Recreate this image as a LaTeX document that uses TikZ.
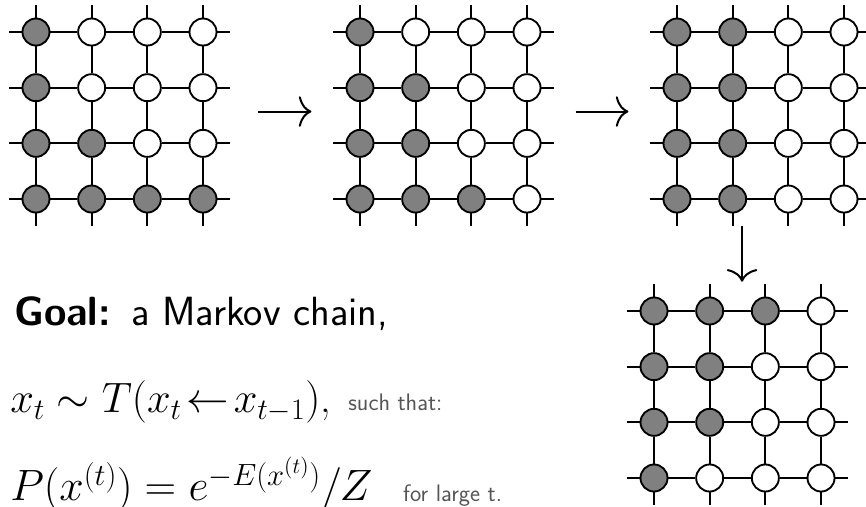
\RequirePackage{fix-cm}
\documentclass[tikz,border=0pt]{standalone}
\usepackage{amsmath,amssymb}
\usepackage{xcolor}
\usetikzlibrary{positioning,fit,arrows.meta}
\definecolor{spin}{HTML}{808080}
\definecolor{note}{HTML}{555555}
\newcommand{\sitegap}{14.73mm}
\newcommand{\stub}{3.35mm}
\tikzset{
  up/.style   = {circle, draw=black, fill=spin, line width=1.4pt,
                 minimum size=7.15mm, inner sep=0pt},
  down/.style = {up, fill=white},
  bond/.style = {line width=1.4pt},
  move/.style = {-{Computer Modern Rightarrow[length=9.5pt,width=23pt]},
                 line width=1.5pt},
  aside/.style = {anchor=base west, inner sep=0pt, text=note,
                  font=\sffamily\fontsize{18}{22}\selectfont},
}
% #1 name, #2 x, #3 y of the top-left site, #4 the 16 spins row by row
\newcommand{\lattice}[4]{%
  \begin{scope}[shift={(#2,#3)}]
    \foreach \s [count=\k from 0] in {#4} {
      \pgfmathtruncatemacro\row{div(\k,4)}
      \pgfmathtruncatemacro\col{mod(\k,4)}
      \ifnum\s=1
        \node[up]   (#1-\row-\col) at (\col*\sitegap, -\row*\sitegap) {};
      \else
        \node[down] (#1-\row-\col) at (\col*\sitegap, -\row*\sitegap) {};
      \fi
    }
  \end{scope}
  \foreach \r in {0,...,3} {
    \foreach \c/\n in {0/1,1/2,2/3} {
      \draw[bond] (#1-\r-\c) -- (#1-\r-\n);
      \draw[bond] (#1-\c-\r) -- (#1-\n-\r);
    }
    \draw[bond] (#1-\r-0.west)  -- ++(-\stub,0);
    \draw[bond] (#1-\r-3.east)  -- ++(\stub,0);
    \draw[bond] (#1-0-\r.north) -- ++(0,\stub);
    \draw[bond] (#1-3-\r.south) -- ++(0,-\stub);
  }
  \node[fit=(#1-0-0)(#1-3-3), inner sep=\stub] (#1) {};
}

\begin{document}
\begin{tikzpicture}
\useasboundingbox (0,0) rectangle (229.13mm,-134.14mm);

% ---- the four configurations -------------------------------------------
\lattice{g1}{9.52mm}{-8.47mm}{1,0,0,0, 1,0,0,0, 1,1,0,0, 1,1,1,1}
\lattice{g2}{95.25mm}{-8.47mm}{1,0,0,0, 1,1,0,0, 1,1,0,0, 1,1,1,0}
\lattice{g3}{179.12mm}{-8.47mm}{1,1,0,0, 1,1,0,0, 1,1,0,0, 1,1,0,0}
\lattice{g4}{173.04mm}{-82.28mm}{1,1,1,0, 1,1,0,0, 1,1,0,0, 1,0,0,0}

% ---- steps of the chain ------------------------------------------------
\draw[move, shorten <=7.4mm, shorten >=5.6mm]
  ([yshift=1.06mm]g1.east) -- ([yshift=1.06mm]g2.west);
\draw[move, shorten <=5.6mm, shorten >=5.6mm]
  ([yshift=1.06mm]g2.east) -- ([yshift=1.06mm]g3.west);
\draw[move, shorten >=0.5mm]
  ([xshift=1.2mm]g3.south -| g4.center) -- ([xshift=1.2mm]g4.north);

% ---- text ----------------------------------------------------------------
\node[anchor=base west, inner sep=0pt, font=\sffamily\fontsize{30.7}{36}\selectfont]
  (goal) at (3.7mm,-85.99mm) {\textbf{Goal:}\enspace a Markov chain,};
\node[anchor=base west, inner sep=0pt, font=\fontsize{32}{37}\selectfont]
  (trans) at (2.65mm,-109.27mm) {$x_t \sim T(x_t\!\leftarrow\!x_{t-1})$,};
\node[aside] (such) at (92.1mm,-108.7mm) {such that:};
\node[anchor=base west, inner sep=0pt, font=\fontsize{33}{38}\selectfont]
  (gibbs) at (2.65mm,-132.55mm) {$P(x^{(t)}) = e^{-E(x^{(t)})}/Z$};
\node[aside] (large) at (106.6mm,-132.7mm) {for large t.};

\end{tikzpicture}
\end{document}
